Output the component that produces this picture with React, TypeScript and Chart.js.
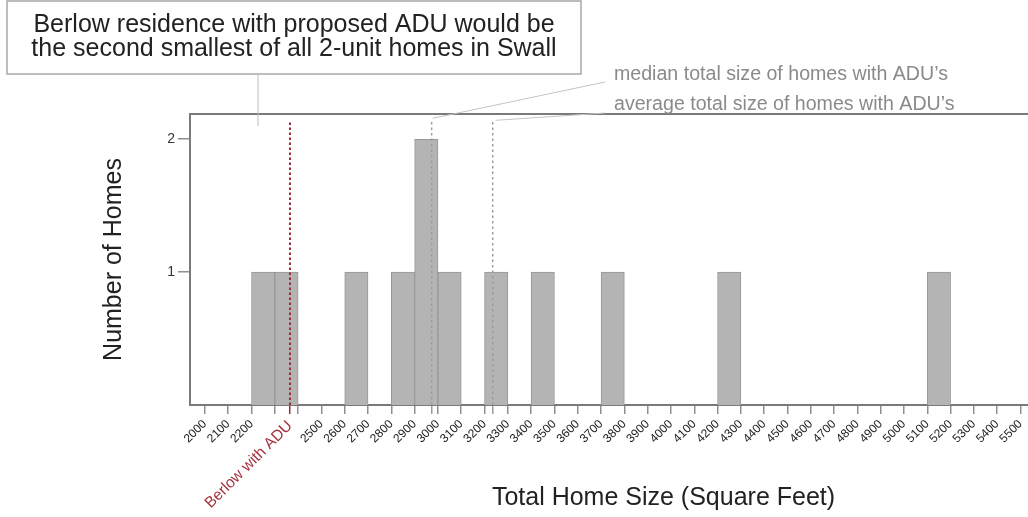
import React, { useEffect, useRef } from 'react';
import { Chart, registerables } from 'chart.js';

Chart.register(...registerables);

// ---- data ----
const BIN_STARTS = [2200, 2300, 2600, 2800, 2900, 3000, 3200, 3400, 3700, 4200, 5100];
const HOME_COUNTS = [1, 1, 1, 1, 2, 1, 1, 1, 1, 1, 1];
const BIN_WIDTH = 100;

const X_TICKS = [
  2000, 2100, 2200, 2300, 2400, 2500, 2600, 2700, 2800, 2900, 3000, 3100,
  3200, 3300, 3400, 3500, 3600, 3700, 3800, 3900, 4000, 4100, 4200, 4300,
  4400, 4500, 4600, 4700, 4800, 4900, 5000, 5100, 5200, 5300, 5400, 5500,
];
const HIDDEN_X_LABELS = [2300, 2400];
const Y_TICKS = [1, 2];

const BERLOW_SIZE = 2365;
const MEDIAN_SIZE = 2973;
const AVERAGE_SIZE = 3235;
const REF_VALUES = [BERLOW_SIZE, MEDIAN_SIZE, AVERAGE_SIZE];
const REF_LINE_TOP = 2.135;

const X_MIN = 1936;
const X_MAX = 6000;
const Y_MAX = 2.19;

const BOX_LINES = [
  'Berlow residence with proposed ADU would be',
  'the second smallest of all 2-unit homes in Swall',
];
const MEDIAN_LABEL = 'median total size of homes with ADU\u2019s';
const AVERAGE_LABEL = 'average total size of homes with ADU\u2019s';
const BERLOW_LABEL = 'Berlow with ADU';
const X_TITLE = 'Total Home Size (Square Feet)';
const Y_TITLE = 'Number of Homes';

// ---- styles ----
const FONT = '"Liberation Sans", Arial, Helvetica, sans-serif';
const RED = '#9e2a36';
const RED_TEXT = '#a5333f';
const AXIS = '#7a7a7a';
const TICK = '#8f8f8f';
const REF_GRAY = '#9c9c9c';
const NOTE_GRAY = '#8a8a8a';

const annotationPlugin = {
  id: 'annotations',
  afterDraw(chart: any) {
    const { ctx, chartArea, scales } = chart;
    const xs = scales.x;
    const ys = scales.y;
    ctx.save();

    // top frame line
    ctx.strokeStyle = AXIS;
    ctx.lineWidth = 2;
    ctx.beginPath();
    ctx.moveTo(chartArea.left - 1, chartArea.top);
    ctx.lineTo(chartArea.right, chartArea.top);
    ctx.stroke();

    // callout box
    ctx.fillStyle = '#ffffff';
    ctx.fillRect(7, 1, 574, 73);
    ctx.strokeStyle = '#a8a8a8';
    ctx.lineWidth = 1.5;
    ctx.strokeRect(7, 1, 574, 73);
    ctx.fillStyle = '#222222';
    ctx.font = `25px ${FONT}`;
    ctx.textAlign = 'center';
    ctx.textBaseline = 'alphabetic';
    ctx.fillText(BOX_LINES[0], 294, 32);
    ctx.fillText(BOX_LINES[1], 294, 56);

    // callout leader
    ctx.strokeStyle = '#bdbdbd';
    ctx.lineWidth = 1;
    ctx.beginPath();
    ctx.moveTo(258, 74);
    ctx.lineTo(258, 126);
    ctx.stroke();

    // median / average notes
    ctx.fillStyle = NOTE_GRAY;
    ctx.font = `19.6px ${FONT}`;
    ctx.textAlign = 'left';
    ctx.fillText(MEDIAN_LABEL, 614, 80);
    ctx.fillText(AVERAGE_LABEL, 614, 110);

    const topY = ys.getPixelForValue(REF_LINE_TOP);
    ctx.strokeStyle = '#c4c4c4';
    ctx.lineWidth = 1;
    ctx.beginPath();
    ctx.moveTo(605, 82);
    ctx.lineTo(xs.getPixelForValue(MEDIAN_SIZE) + 1, topY - 3);
    ctx.stroke();
    ctx.beginPath();
    ctx.moveTo(605, 113);
    ctx.lineTo(xs.getPixelForValue(AVERAGE_SIZE) + 3, topY - 1);
    ctx.stroke();

    ctx.restore();
  },
};

function refLine(value: number, color: string, width: number, dash: number[]) {
  return {
    type: 'line' as const,
    data: [
      { x: value, y: 0 },
      { x: value, y: REF_LINE_TOP },
    ],
    borderColor: color,
    borderWidth: width,
    borderDash: dash,
    pointRadius: 0,
    fill: false,
    order: 0,
  };
}

export default function App() {
  const ref = useRef<HTMLCanvasElement>(null);

  useEffect(() => {
    const canvas = ref.current;
    if (!canvas) return;
    const chart = new Chart(canvas, {
      type: 'bar',
      data: {
        datasets: [
          refLine(BERLOW_SIZE, RED, 2, [2.5, 2.5]),
          refLine(MEDIAN_SIZE, REF_GRAY, 1.5, [2.5, 3]),
          refLine(AVERAGE_SIZE, REF_GRAY, 1.5, [2.5, 3]),
          {
            type: 'bar' as const,
            data: BIN_STARTS.map((s, i) => ({ x: s + BIN_WIDTH / 2, y: HOME_COUNTS[i] })),
            backgroundColor: '#b4b4b4',
            borderColor: '#979797',
            borderWidth: 1,
            barPercentage: 1,
            categoryPercentage: 1,
            order: 1,
          },
        ] as any,
      },
      options: {
        responsive: false,
        animation: false,
        events: [],
        layout: { padding: { left: 0, top: 114, right: 0, bottom: 0 } },
        plugins: {
          legend: { display: false },
          tooltip: { enabled: false },
        },
        scales: {
          x: {
            type: 'linear',
            min: X_MIN,
            max: X_MAX,
            offset: false,
            z: 1,
            afterBuildTicks: (s: any) => {
              s.ticks = X_TICKS.map((v) => ({ value: v }));
            },
            afterFit: (s: any) => {
              s.height = 112;
            },
            grid: {
              display: true,
              offset: false,
              drawOnChartArea: false,
              drawTicks: true,
              tickLength: 9,
              color: TICK,
              lineWidth: 1.5,
            },
            border: { display: true, color: AXIS, width: 2 },
            ticks: {
              autoSkip: false,
              minRotation: 45,
              maxRotation: 45,
              padding: 3,
              color: '#222222',
              font: { family: FONT, size: 12 },
              callback: (v: any) => (HIDDEN_X_LABELS.includes(Number(v)) ? '' : String(v)),
            },
            title: {
              display: true,
              text: X_TITLE,
              color: '#222222',
              font: { family: FONT, size: 25 },
              padding: { top: 0, bottom: 4 },
            },
          },
          x2: {
            type: 'linear',
            axis: 'x',
            position: { y: 0 },
            min: X_MIN,
            max: X_MAX,
            offset: false,
            afterBuildTicks: (s: any) => {
              s.ticks = REF_VALUES.map((v) => ({ value: v }));
            },
            grid: {
              display: true,
              offset: false,
              drawOnChartArea: false,
              drawTicks: true,
              tickLength: 9,
              lineWidth: 1.5,
              color: (c: any) => (c.tick && c.tick.value === BERLOW_SIZE ? RED : REF_GRAY),
            },
            border: { display: false },
            ticks: {
              autoSkip: false,
              minRotation: 45,
              maxRotation: 45,
              padding: 3,
              color: RED_TEXT,
              font: { family: FONT, size: 15.5 },
              callback: (v: any) => (Number(v) === BERLOW_SIZE ? BERLOW_LABEL : ''),
            },
          },
          y: {
            type: 'linear',
            min: 0,
            max: Y_MAX,
            afterBuildTicks: (s: any) => {
              s.ticks = Y_TICKS.map((v) => ({ value: v }));
            },
            afterFit: (s: any) => {
              s.width = 190;
            },
            grid: {
              drawOnChartArea: false,
              drawTicks: true,
              tickLength: 12,
              color: TICK,
              lineWidth: 1.5,
            },
            border: { display: true, color: AXIS, width: 2 },
            ticks: {
              padding: 3,
              color: '#333333',
              font: { family: FONT, size: 14 },
              callback: (v: any) => String(v),
            },
            title: {
              display: true,
              text: Y_TITLE,
              color: '#222222',
              font: { family: FONT, size: 25 },
              padding: { top: 99, bottom: 0 },
            },
          },
        } as any,
      },
      plugins: [annotationPlugin],
    });
    return () => chart.destroy();
  }, []);

  return (
    <div
      style={{
        position: 'fixed',
        left: 0,
        top: 0,
        width: 1028,
        height: 517,
        overflow: 'hidden',
        background: '#ffffff',
      }}
    >
      <canvas ref={ref} width={1137} height={517} style={{ display: 'block', width: 1137, height: 517 }} />
    </div>
  );
}
